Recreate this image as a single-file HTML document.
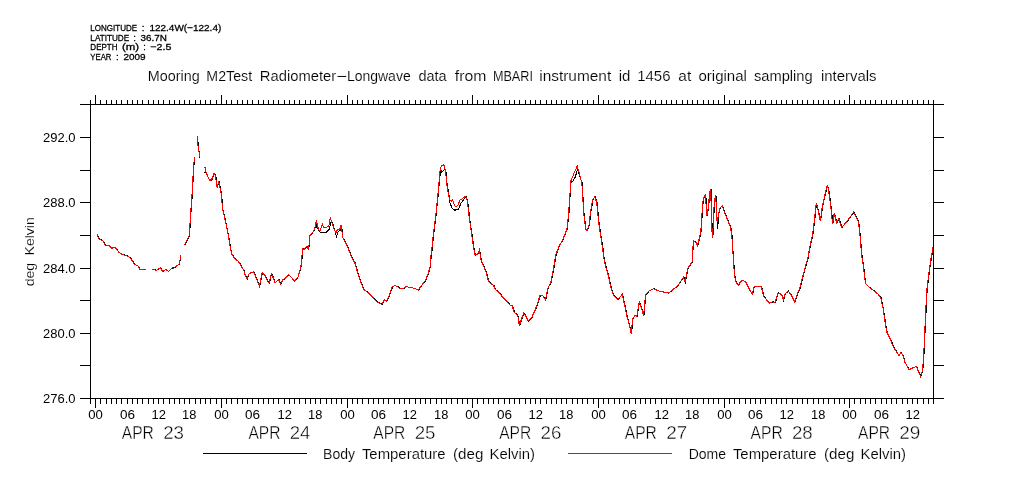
<!DOCTYPE html>
<html><head><meta charset="utf-8"><style>
html,body{margin:0;padding:0;background:#fff;}
body{width:1009px;height:504px;overflow:hidden;}
svg{display:block;}
text{font-family:"Liberation Sans",sans-serif;fill:#000;stroke:none;}
.h{stroke:#000;stroke-width:0.3px;}
.s{}
.d{stroke:#fff;stroke-width:0.4px;}
.k{stroke:#fff;stroke-width:0.15px;}
</style></head><body>
<svg width="1009" height="504" viewBox="0 0 1009 504">
<rect width="1009" height="504" fill="#fff"/>

<text x="90.36" y="31" font-size="9.71" textLength="46.69" lengthAdjust="spacingAndGlyphs" class="h">LONGITUDE</text>
<text x="141.74" y="31" font-size="9.71" textLength="2.70" lengthAdjust="spacingAndGlyphs" class="h">:</text>
<text x="149.40" y="31" font-size="9.71" textLength="71.89" lengthAdjust="spacingAndGlyphs" class="h">122.4W(−122.4)</text>
<text x="90.35" y="40.9" font-size="9.71" textLength="38.78" lengthAdjust="spacingAndGlyphs" class="h">LATITUDE</text>
<text x="133.34" y="40.9" font-size="9.71" textLength="2.70" lengthAdjust="spacingAndGlyphs" class="h">:</text>
<text x="140.60" y="40.9" font-size="9.71" textLength="26.37" lengthAdjust="spacingAndGlyphs" class="h">36.7N</text>
<text x="90.36" y="50.1" font-size="9.13" textLength="27.07" lengthAdjust="spacingAndGlyphs" class="h">DEPTH</text>
<text x="121.91" y="50.1" font-size="9.13" textLength="17.16" lengthAdjust="spacingAndGlyphs" class="h">(m)</text>
<text x="143.32" y="50.1" font-size="9.13" textLength="2.54" lengthAdjust="spacingAndGlyphs" class="h">:</text>
<text x="150.37" y="50.1" font-size="9.13" textLength="21.00" lengthAdjust="spacingAndGlyphs" class="h">−2.5</text>
<text x="90.37" y="60" font-size="9.86" textLength="21.04" lengthAdjust="spacingAndGlyphs" class="h">YEAR</text>
<text x="116.12" y="60" font-size="9.86" textLength="2.74" lengthAdjust="spacingAndGlyphs" class="h">:</text>
<text x="123.40" y="60" font-size="9.86" textLength="22.14" lengthAdjust="spacingAndGlyphs" class="h">2009</text>
<text x="147.85" y="81" font-size="14.35" textLength="51.85" lengthAdjust="spacingAndGlyphs" class="k">Mooring</text>
<text x="206.36" y="81" font-size="14.35" textLength="45.78" lengthAdjust="spacingAndGlyphs" class="k">M2Test</text>
<text x="259.82" y="81" font-size="14.35" textLength="76.36" lengthAdjust="spacingAndGlyphs" class="k">Radiometer</text>
<text x="336.19" y="81" font-size="14.35" textLength="10.61" lengthAdjust="spacingAndGlyphs" class="k">−</text>
<text x="346.88" y="81" font-size="14.35" textLength="63.81" lengthAdjust="spacingAndGlyphs" class="k">Longwave</text>
<text x="418.42" y="81" font-size="14.35" textLength="28.23" lengthAdjust="spacingAndGlyphs" class="k">data</text>
<text x="454.84" y="81" font-size="14.35" textLength="31.56" lengthAdjust="spacingAndGlyphs" class="k">from</text>
<text x="492.89" y="81" font-size="14.35" textLength="40.12" lengthAdjust="spacingAndGlyphs" class="k">MBARI</text>
<text x="539.22" y="81" font-size="14.35" textLength="72.01" lengthAdjust="spacingAndGlyphs" class="k">instrument</text>
<text x="618.65" y="81" font-size="14.35" textLength="11.68" lengthAdjust="spacingAndGlyphs" class="k">id</text>
<text x="637.20" y="81" font-size="14.35" textLength="33.37" lengthAdjust="spacingAndGlyphs" class="k">1456</text>
<text x="678.38" y="81" font-size="14.35" textLength="12.88" lengthAdjust="spacingAndGlyphs" class="k">at</text>
<text x="698.40" y="81" font-size="14.35" textLength="48.57" lengthAdjust="spacingAndGlyphs" class="k">original</text>
<text x="753.96" y="81" font-size="14.35" textLength="58.75" lengthAdjust="spacingAndGlyphs" class="k">sampling</text>
<text x="820.96" y="81" font-size="14.35" textLength="55.55" lengthAdjust="spacingAndGlyphs" class="k">intervals</text>
<text x="323.08" y="459" font-size="13.91" textLength="32.01" lengthAdjust="spacingAndGlyphs" class="k">Body</text>
<text x="361.90" y="459" font-size="13.91" textLength="83.75" lengthAdjust="spacingAndGlyphs" class="k">Temperature</text>
<text x="452.99" y="459" font-size="13.91" textLength="30.34" lengthAdjust="spacingAndGlyphs" class="k">(deg</text>
<text x="489.51" y="459" font-size="13.91" textLength="45.59" lengthAdjust="spacingAndGlyphs" class="k">Kelvin)</text>
<text x="688.68" y="459" font-size="13.91" textLength="37.39" lengthAdjust="spacingAndGlyphs" class="k">Dome</text>
<text x="732.90" y="459" font-size="13.91" textLength="83.75" lengthAdjust="spacingAndGlyphs" class="k">Temperature</text>
<text x="823.99" y="459" font-size="13.91" textLength="30.34" lengthAdjust="spacingAndGlyphs" class="k">(deg</text>
<text x="860.51" y="459" font-size="13.91" textLength="45.59" lengthAdjust="spacingAndGlyphs" class="k">Kelvin)</text>
<g stroke="#000" stroke-width="1" shape-rendering="crispEdges" fill="none">
<path d="M80,104.5H944M80,398.5H944M90.5,104V399M933.5,104V399"/>
<path d="M90.5,104V100M90.5,399V404M95.5,104V95M95.5,399V408M100.5,104V100M100.5,399V404M106.5,104V100M106.5,399V404M111.5,104V100M111.5,399V404M116.5,104V100M116.5,399V404M121.5,104V100M121.5,399V404M127.5,104V100M127.5,399V404M132.5,104V100M132.5,399V404M137.5,104V100M137.5,399V404M142.5,104V100M142.5,399V404M148.5,104V100M148.5,399V404M153.5,104V100M153.5,399V404M158.5,104V100M158.5,399V404M163.5,104V100M163.5,399V404M169.5,104V100M169.5,399V404M174.5,104V100M174.5,399V404M179.5,104V100M179.5,399V404M184.5,104V100M184.5,399V404M189.5,104V100M189.5,399V404M195.5,104V100M195.5,399V404M200.5,104V100M200.5,399V404M205.5,104V100M205.5,399V404M210.5,104V100M210.5,399V404M216.5,104V100M216.5,399V404M221.5,104V95M221.5,399V408M226.5,104V100M226.5,399V404M231.5,104V100M231.5,399V404M237.5,104V100M237.5,399V404M242.5,104V100M242.5,399V404M247.5,104V100M247.5,399V404M252.5,104V100M252.5,399V404M258.5,104V100M258.5,399V404M263.5,104V100M263.5,399V404M268.5,104V100M268.5,399V404M273.5,104V100M273.5,399V404M278.5,104V100M278.5,399V404M284.5,104V100M284.5,399V404M289.5,104V100M289.5,399V404M294.5,104V100M294.5,399V404M299.5,104V100M299.5,399V404M305.5,104V100M305.5,399V404M310.5,104V100M310.5,399V404M315.5,104V100M315.5,399V404M320.5,104V100M320.5,399V404M326.5,104V100M326.5,399V404M331.5,104V100M331.5,399V404M336.5,104V100M336.5,399V404M341.5,104V100M341.5,399V404M347.5,104V95M347.5,399V408M352.5,104V100M352.5,399V404M357.5,104V100M357.5,399V404M362.5,104V100M362.5,399V404M368.5,104V100M368.5,399V404M373.5,104V100M373.5,399V404M378.5,104V100M378.5,399V404M383.5,104V100M383.5,399V404M388.5,104V100M388.5,399V404M394.5,104V100M394.5,399V404M399.5,104V100M399.5,399V404M404.5,104V100M404.5,399V404M409.5,104V100M409.5,399V404M415.5,104V100M415.5,399V404M420.5,104V100M420.5,399V404M425.5,104V100M425.5,399V404M430.5,104V100M430.5,399V404M436.5,104V100M436.5,399V404M441.5,104V100M441.5,399V404M446.5,104V100M446.5,399V404M451.5,104V100M451.5,399V404M457.5,104V100M457.5,399V404M462.5,104V100M462.5,399V404M467.5,104V100M467.5,399V404M472.5,104V95M472.5,399V408M477.5,104V100M477.5,399V404M483.5,104V100M483.5,399V404M488.5,104V100M488.5,399V404M493.5,104V100M493.5,399V404M498.5,104V100M498.5,399V404M504.5,104V100M504.5,399V404M509.5,104V100M509.5,399V404M514.5,104V100M514.5,399V404M519.5,104V100M519.5,399V404M525.5,104V100M525.5,399V404M530.5,104V100M530.5,399V404M535.5,104V100M535.5,399V404M540.5,104V100M540.5,399V404M546.5,104V100M546.5,399V404M551.5,104V100M551.5,399V404M556.5,104V100M556.5,399V404M561.5,104V100M561.5,399V404M566.5,104V100M566.5,399V404M572.5,104V100M572.5,399V404M577.5,104V100M577.5,399V404M582.5,104V100M582.5,399V404M587.5,104V100M587.5,399V404M593.5,104V100M593.5,399V404M598.5,104V95M598.5,399V408M603.5,104V100M603.5,399V404M608.5,104V100M608.5,399V404M614.5,104V100M614.5,399V404M619.5,104V100M619.5,399V404M624.5,104V100M624.5,399V404M629.5,104V100M629.5,399V404M635.5,104V100M635.5,399V404M640.5,104V100M640.5,399V404M645.5,104V100M645.5,399V404M650.5,104V100M650.5,399V404M655.5,104V100M655.5,399V404M661.5,104V100M661.5,399V404M666.5,104V100M666.5,399V404M671.5,104V100M671.5,399V404M676.5,104V100M676.5,399V404M682.5,104V100M682.5,399V404M687.5,104V100M687.5,399V404M692.5,104V100M692.5,399V404M697.5,104V100M697.5,399V404M703.5,104V100M703.5,399V404M708.5,104V100M708.5,399V404M713.5,104V100M713.5,399V404M718.5,104V100M718.5,399V404M724.5,104V95M724.5,399V408M729.5,104V100M729.5,399V404M734.5,104V100M734.5,399V404M739.5,104V100M739.5,399V404M745.5,104V100M745.5,399V404M750.5,104V100M750.5,399V404M755.5,104V100M755.5,399V404M760.5,104V100M760.5,399V404M765.5,104V100M765.5,399V404M771.5,104V100M771.5,399V404M776.5,104V100M776.5,399V404M781.5,104V100M781.5,399V404M786.5,104V100M786.5,399V404M792.5,104V100M792.5,399V404M797.5,104V100M797.5,399V404M802.5,104V100M802.5,399V404M807.5,104V100M807.5,399V404M813.5,104V100M813.5,399V404M818.5,104V100M818.5,399V404M823.5,104V100M823.5,399V404M828.5,104V100M828.5,399V404M834.5,104V100M834.5,399V404M839.5,104V100M839.5,399V404M844.5,104V100M844.5,399V404M849.5,104V95M849.5,399V408M854.5,104V100M854.5,399V404M860.5,104V100M860.5,399V404M865.5,104V100M865.5,399V404M870.5,104V100M870.5,399V404M875.5,104V100M875.5,399V404M881.5,104V100M881.5,399V404M886.5,104V100M886.5,399V404M891.5,104V100M891.5,399V404M896.5,104V100M896.5,399V404M902.5,104V100M902.5,399V404M907.5,104V100M907.5,399V404M912.5,104V100M912.5,399V404M917.5,104V100M917.5,399V404M923.5,104V100M923.5,399V404M928.5,104V100M928.5,399V404M933.5,104V100M933.5,399V404"/>
<path d="M80,398.5H90M933,398.5H944M80,365.5H90M933,365.5H944M80,333.5H90M933,333.5H944M80,300.5H90M933,300.5H944M80,268.5H90M933,268.5H944M80,235.5H90M933,235.5H944M80,202.5H90M933,202.5H944M80,170.5H90M933,170.5H944M80,137.5H90M933,137.5H944"/>
</g>
<text x="43.05" y="402.6" font-size="12.29" textLength="32.50" lengthAdjust="spacingAndGlyphs" class="s">276.0</text>
<text x="43.05" y="337.6" font-size="12.29" textLength="32.50" lengthAdjust="spacingAndGlyphs" class="s">280.0</text>
<text x="43.05" y="272.6" font-size="12.29" textLength="32.50" lengthAdjust="spacingAndGlyphs" class="s">284.0</text>
<text x="43.05" y="206.6" font-size="12.29" textLength="32.50" lengthAdjust="spacingAndGlyphs" class="s">288.0</text>
<text x="43.05" y="141.6" font-size="12.29" textLength="32.50" lengthAdjust="spacingAndGlyphs" class="s">292.0</text>
<g transform="translate(33.7,285.7) rotate(-90)"><text x="-0.56" y="0" font-size="13.48" textLength="23.42" lengthAdjust="spacingAndGlyphs" class="k">deg</text><text x="30.28" y="0" font-size="13.48" textLength="38.22" lengthAdjust="spacingAndGlyphs" class="k">Kelvin</text></g>
<text x="88.23" y="419" font-size="12.86" textLength="14.58" lengthAdjust="spacingAndGlyphs" class="s">00</text>
<text x="120.01" y="419" font-size="12.86" textLength="15.01" lengthAdjust="spacingAndGlyphs" class="s">06</text>
<text x="151.61" y="419" font-size="12.86" textLength="14.42" lengthAdjust="spacingAndGlyphs" class="s">12</text>
<text x="182.12" y="419" font-size="12.86" textLength="14.27" lengthAdjust="spacingAndGlyphs" class="s">18</text>
<text x="214.23" y="419" font-size="12.86" textLength="14.58" lengthAdjust="spacingAndGlyphs" class="s">00</text>
<text x="245.01" y="419" font-size="12.86" textLength="15.01" lengthAdjust="spacingAndGlyphs" class="s">06</text>
<text x="277.61" y="419" font-size="12.86" textLength="14.42" lengthAdjust="spacingAndGlyphs" class="s">12</text>
<text x="308.12" y="419" font-size="12.86" textLength="14.27" lengthAdjust="spacingAndGlyphs" class="s">18</text>
<text x="340.23" y="419" font-size="12.86" textLength="14.58" lengthAdjust="spacingAndGlyphs" class="s">00</text>
<text x="371.01" y="419" font-size="12.86" textLength="15.01" lengthAdjust="spacingAndGlyphs" class="s">06</text>
<text x="402.61" y="419" font-size="12.86" textLength="14.42" lengthAdjust="spacingAndGlyphs" class="s">12</text>
<text x="434.12" y="419" font-size="12.86" textLength="14.27" lengthAdjust="spacingAndGlyphs" class="s">18</text>
<text x="465.23" y="419" font-size="12.86" textLength="14.58" lengthAdjust="spacingAndGlyphs" class="s">00</text>
<text x="497.01" y="419" font-size="12.86" textLength="15.01" lengthAdjust="spacingAndGlyphs" class="s">06</text>
<text x="528.61" y="419" font-size="12.86" textLength="14.42" lengthAdjust="spacingAndGlyphs" class="s">12</text>
<text x="559.12" y="419" font-size="12.86" textLength="14.27" lengthAdjust="spacingAndGlyphs" class="s">18</text>
<text x="591.23" y="419" font-size="12.86" textLength="14.58" lengthAdjust="spacingAndGlyphs" class="s">00</text>
<text x="622.01" y="419" font-size="12.86" textLength="15.01" lengthAdjust="spacingAndGlyphs" class="s">06</text>
<text x="654.61" y="419" font-size="12.86" textLength="14.42" lengthAdjust="spacingAndGlyphs" class="s">12</text>
<text x="685.12" y="419" font-size="12.86" textLength="14.27" lengthAdjust="spacingAndGlyphs" class="s">18</text>
<text x="717.23" y="419" font-size="12.86" textLength="14.58" lengthAdjust="spacingAndGlyphs" class="s">00</text>
<text x="748.01" y="419" font-size="12.86" textLength="15.01" lengthAdjust="spacingAndGlyphs" class="s">06</text>
<text x="779.61" y="419" font-size="12.86" textLength="14.42" lengthAdjust="spacingAndGlyphs" class="s">12</text>
<text x="811.12" y="419" font-size="12.86" textLength="14.27" lengthAdjust="spacingAndGlyphs" class="s">18</text>
<text x="842.23" y="419" font-size="12.86" textLength="14.58" lengthAdjust="spacingAndGlyphs" class="s">00</text>
<text x="874.01" y="419" font-size="12.86" textLength="15.01" lengthAdjust="spacingAndGlyphs" class="s">06</text>
<text x="905.61" y="419" font-size="12.86" textLength="14.42" lengthAdjust="spacingAndGlyphs" class="s">12</text>
<text x="121.80" y="439" font-size="18.84" textLength="32.08" lengthAdjust="spacingAndGlyphs" class="d">APR</text>
<text x="163.16" y="439" font-size="18.57" textLength="20.83" lengthAdjust="spacingAndGlyphs" class="d">23</text>
<text x="248.40" y="439" font-size="18.84" textLength="32.08" lengthAdjust="spacingAndGlyphs" class="d">APR</text>
<text x="289.77" y="439" font-size="18.57" textLength="20.63" lengthAdjust="spacingAndGlyphs" class="d">24</text>
<text x="373.30" y="439" font-size="18.84" textLength="32.08" lengthAdjust="spacingAndGlyphs" class="d">APR</text>
<text x="414.66" y="439" font-size="18.57" textLength="20.83" lengthAdjust="spacingAndGlyphs" class="d">25</text>
<text x="499.20" y="439" font-size="18.84" textLength="32.08" lengthAdjust="spacingAndGlyphs" class="d">APR</text>
<text x="540.56" y="439" font-size="18.57" textLength="20.83" lengthAdjust="spacingAndGlyphs" class="d">26</text>
<text x="624.80" y="439" font-size="18.84" textLength="32.08" lengthAdjust="spacingAndGlyphs" class="d">APR</text>
<text x="666.15" y="439" font-size="18.57" textLength="21.04" lengthAdjust="spacingAndGlyphs" class="d">27</text>
<text x="750.60" y="439" font-size="18.84" textLength="32.08" lengthAdjust="spacingAndGlyphs" class="d">APR</text>
<text x="791.96" y="439" font-size="18.57" textLength="20.83" lengthAdjust="spacingAndGlyphs" class="d">28</text>
<text x="858.00" y="439" font-size="18.84" textLength="32.08" lengthAdjust="spacingAndGlyphs" class="d">APR</text>
<text x="899.35" y="439" font-size="18.57" textLength="21.04" lengthAdjust="spacingAndGlyphs" class="d">29</text>
<path d="M203,453.5H307" stroke="#000" stroke-width="1" shape-rendering="crispEdges"/>
<path d="M568,453.5H672" stroke="#f00" stroke-width="1" shape-rendering="crispEdges"/>
<path d="M97.4,234.0L98.6,238.5L100.4,239.6L102.8,240.5L105.8,245.6L109.3,245.6L112.3,248.3L114.1,247.1L115.9,248.0L119.5,252.7L121.8,254.0L124.8,255.1L128.4,256.3L131.3,258.7L133.8,262.9L134.9,264.6L137.4,265.5L138.9,266.7L139.8,269.3L146.2,269.3M152.7,270.0L154.2,269.3L156.4,270.5L158.2,269.3L160.7,267.6L161.5,269.3L163.0,271.4L166.0,269.3L168.7,271.4L172.8,267.6L174.0,268.2L177.0,265.8L179.3,264.3L179.9,260.7L180.8,258.9L180.8,255.0M184.8,245.2L189.4,236.2L190.2,225.4L191.2,209.5L191.7,204.4L192.4,193.3L193.2,179.0L194.0,164.7L195.0,157.5M197.5,136.1L198.8,151.2L199.7,152.8L199.9,157.5M203.9,172.3L206.3,172.6L208.7,179.0L211.0,181.3L212.7,178.2L214.2,173.4L215.8,175.8L217.4,187.7L219.0,181.3L220.5,188.5L221.7,194.8L222.4,204.4L222.8,209.5L224.3,215.0L227.2,228.6L228.8,236.5L230.4,246.8L232.0,254.0L235.2,258.7L238.3,261.1L240.8,264.7L243.9,270.2L245.9,276.2L247.4,279.0L249.0,274.2L251.4,272.6L253.8,271.8L255.8,276.2L257.5,280.6L259.8,286.1L260.9,280.6L262.6,272.6L265.4,275.4L267.8,281.3L269.4,283.3L271.0,276.2L272.0,273.8L273.7,278.2L275.2,282.9L276.9,281.3L279.1,279.8L280.9,284.1L283.2,279.8L286.0,278.2L288.8,274.6L292.0,277.8L294.8,281.3L298.2,277.0L300.2,270.6L301.7,264.3L302.2,255.6L302.5,254.6L303.0,248.6L304.2,249.5L306.9,246.5L308.7,249.1L309.6,243.4L310.0,236.4L310.9,234.7L313.9,231.2L315.2,227.7L316.1,223.8L317.0,227.7L319.2,231.0L320.9,232.9L323.5,232.1L326.6,232.1L329.2,229.5L330.5,223.3L331.8,221.2L332.7,223.3L334.4,229.0L336.6,236.9L337.9,232.1L340.5,229.9L341.4,225.5L342.2,230.3L342.7,237.3L344.0,239.0L346.6,243.9L349.7,251.3L352.5,258.5L355.1,262.4L357.7,272.1L360.2,279.8L364.1,289.5L369.2,293.4L373.1,297.3L377.0,301.8L382.2,304.4L384.8,299.8L386.7,301.1L389.9,294.7L392.5,287.0L395.1,285.6L397.7,286.5L400.9,288.9L404.1,288.2L406.7,286.5L409.9,287.6L413.1,288.0L415.7,288.9L418.7,290.0L422.2,285.0L425.4,281.1L428.6,273.4L430.6,266.3L431.2,255.3L431.7,254.2L433.7,234.4L436.2,214.5L438.2,194.7L440.6,169.3L441.7,172.0L444.6,169.3L445.5,170.9L446.0,172.0L447.2,184.8L449.0,195.0L449.8,202.5L452.0,208.0L454.8,210.2L458.6,209.1L460.8,203.6L464.0,199.3L466.2,196.5L467.2,199.3L468.1,204.6L470.0,220.5L472.0,234.4L473.8,246.7L475.5,255.1L478.0,254.3L479.7,250.1L481.4,260.2L483.9,266.1L486.4,272.0L488.9,281.3L491.5,283.8L494.0,285.5L495.7,289.7L499.1,292.2L502.4,296.4L506.7,300.6L510.0,304.9L512.6,305.7L514.6,312.5L516.8,314.1L518.5,317.5L519.8,326.0L521.8,319.2L524.0,313.3L526.0,315.8L528.6,320.9L532.0,317.5L535.2,310.8L537.9,303.2L540.4,295.6L542.9,295.6L545.9,299.8L548.2,288.0L551.2,282.1L553.9,268.6L556.1,255.1L559.4,246.3L563.2,239.3L567.2,229.4L568.9,214.5L570.2,194.7L571.2,180.8L572.1,182.2L575.1,177.5L577.6,169.5L579.1,174.3L582.1,182.8L583.1,198.7L584.1,214.5L586.1,229.4L587.5,230.4L589.5,224.4L591.1,210.6L593.1,199.6L595.1,196.7L597.1,202.6L599.1,222.5L601.4,238.3L603.0,248.3L603.9,256.3L605.8,265.7L608.6,275.1L611.4,288.3L614.1,295.8L618.0,299.6L622.6,294.3L624.6,303.4L627.4,316.6L629.6,325.0L631.6,333.5L633.1,318.4L635.2,315.6L637.1,316.6L639.6,301.5L642.1,309.0L644.0,315.6L645.9,294.9L649.1,291.1L653.8,288.7L659.4,291.1L668.8,293.0L672.6,290.2L678.2,285.5L683.9,277.0L685.4,281.7L688.1,268.5L692.4,262.0L693.0,249.8L694.1,241.1L696.5,242.7L697.8,245.9L699.4,239.5L701.0,232.4L701.6,225.8L702.2,214.7L703.0,204.3L703.6,198.1L705.1,196.0L705.8,195.3L706.5,205.0L707.1,216.1L708.6,207.8L709.2,200.8L710.0,193.2L711.0,189.0L711.4,200.8L712.1,225.8L712.8,238.3L713.5,227.2L714.1,210.6L714.8,200.8L716.0,195.3L716.5,203.6L716.9,219.0L717.6,228.6L719.0,213.3L720.4,207.8L722.5,205.7L723.1,207.1L724.6,211.9L726.6,216.8L728.6,221.7L730.8,227.2L731.8,232.8L732.6,241.1L732.9,249.4L733.6,257.1L734.2,267.9L735.1,277.4L736.6,282.7L738.6,285.7L740.9,281.5L743.2,280.4L746.1,282.1L748.6,286.9L751.0,291.7L752.8,294.0L754.0,287.5L755.8,286.3L761.6,286.3L762.9,291.7L764.1,296.4L766.5,299.4L770.0,303.0L773.0,301.8L775.4,302.4L778.4,292.9L780.8,294.0L782.5,295.8L783.6,300.0L785.5,293.5L788.5,291.1L792.1,295.8L795.0,301.8L797.4,294.6L799.8,289.3L801.6,282.7L804.0,273.2L806.4,264.3L808.1,258.3L810.6,244.8L813.1,233.7L815.0,217.9L816.6,202.8L818.6,211.5L820.6,221.0L822.2,209.1L824.1,199.6L825.8,192.5L827.6,185.3L829.0,190.9L830.6,202.8L831.6,211.5L832.9,224.2L834.5,213.1L835.6,217.1L836.9,222.6L839.2,218.7L840.4,222.6L842.0,227.4L846.4,222.6L850.4,217.1L853.9,212.3L856.0,216.0L858.8,221.8L859.6,229.0L860.6,238.5L861.9,254.5L863.5,264.6L864.6,274.8L865.9,283.7L869.6,287.3L874.4,290.8L878.0,293.8L881.0,297.4L883.2,307.5L884.6,316.4L886.1,327.1L887.4,332.5L890.9,339.6L893.6,346.8L897.1,352.1L899.2,355.7L901.1,352.5L903.4,355.7L905.1,362.0L907.9,367.3L909.2,370.0L912.4,368.2L916.5,366.4L918.6,370.9L920.9,376.3L922.5,371.8L923.6,362.9L924.2,350.4L925.1,330.7L926.1,311.1L927.1,291.4L928.2,280.7L929.8,268.8L931.6,256.9L933.4,247.4" fill="none" stroke="#000" stroke-width="1" shape-rendering="crispEdges"/>
<path d="M97.1,234.0L98.3,238.5L100.1,239.6L102.5,240.5L105.5,245.6L109.0,245.6L112.0,248.3L113.8,247.1L115.6,248.0L119.2,252.7L121.5,254.0L124.5,255.1L128.1,256.3L131.0,258.7L133.5,262.9L134.6,264.6L137.1,265.5L138.6,266.7L139.5,269.3L145.8,269.3M152.3,270.0L153.8,269.3L156.1,270.5L157.9,269.3L160.3,267.6L161.2,269.3L162.7,271.4L165.7,269.3L168.3,271.4L172.5,267.6L173.7,268.2L176.7,265.8L179.0,264.3L179.6,260.7L180.5,258.9L180.5,255.0M184.4,245.2L189.1,236.2L189.9,225.4L190.9,209.5L191.3,204.4L192.1,193.3L192.8,179.0L193.7,164.7L194.7,157.5M197.2,136.1L198.5,151.2L199.3,152.8L199.6,157.5M203.6,167.9L205.2,167.9L206.0,171.8L207.5,175.8L209.9,180.6L212.3,178.2L213.9,173.4L215.5,175.8L217.1,187.7L218.7,181.3L220.2,188.5L221.3,194.8L222.1,204.4L222.5,209.5L224.0,215.0L226.9,228.6L228.5,236.5L230.1,246.8L231.7,254.0L234.8,258.7L238.0,261.1L240.4,264.7L243.6,270.2L245.6,276.2L247.1,279.0L248.7,274.2L251.1,272.6L253.5,271.8L255.5,276.2L257.1,280.6L259.4,286.1L260.5,280.6L262.2,272.6L265.0,275.4L267.4,281.3L269.0,283.3L270.6,276.2L271.6,273.8L273.3,278.2L274.9,282.9L276.5,281.3L278.7,279.8L280.5,284.1L282.9,279.8L285.6,278.2L288.4,274.6L291.6,277.8L294.4,281.3L297.9,277.0L299.9,270.6L301.3,264.3L301.9,255.6L302.1,254.6L302.6,248.6L303.9,249.5L306.5,246.5L308.3,249.1L309.2,243.4L309.6,236.4L310.5,234.7L313.5,231.2L314.8,227.7L316.4,220.3L317.5,226.0L318.8,229.9L320.5,230.8L321.4,226.4L322.5,224.2L323.6,227.3L325.7,227.7L328.8,226.0L329.7,220.7L330.4,218.1L331.4,221.2L332.3,223.3L334.0,229.0L335.8,232.9L337.5,229.5L339.7,229.5L341.0,225.5L341.9,230.3L342.3,237.3L343.6,239.0L346.2,243.9L349.3,251.3L352.1,258.5L354.7,262.4L357.3,272.1L359.8,279.8L363.7,289.5L368.9,293.4L372.7,297.3L376.6,301.8L381.8,304.4L384.4,299.8L386.3,301.1L389.5,294.7L392.1,287.0L394.7,285.6L397.3,286.5L400.5,288.9L403.7,288.2L406.3,286.5L409.5,287.6L412.7,288.0L415.3,288.9L418.3,290.0L421.8,285.0L425.0,281.1L428.2,273.4L430.2,266.3L430.8,255.3L431.3,254.2L433.3,234.4L435.9,214.5L437.9,194.7L440.2,169.3L441.3,166.0L443.5,164.9L444.5,166.0L445.6,172.0L446.8,184.8L448.6,195.0L449.4,198.7L451.1,201.4L452.7,199.8L454.4,205.8L456.5,206.9L458.2,204.7L459.8,200.3L461.4,199.3L463.6,197.6L465.8,196.0L466.9,199.3L467.7,204.6L469.6,220.5L471.6,234.4L473.4,246.7L475.1,255.1L477.6,254.3L479.3,250.1L481.0,260.2L483.5,266.1L486.0,272.0L488.5,281.3L491.1,283.8L493.6,285.5L495.3,289.7L498.7,292.2L502.0,296.4L506.3,300.6L509.6,304.9L512.2,305.7L514.2,312.5L516.4,314.1L518.1,317.5L519.4,326.0L521.4,319.2L523.6,313.3L525.6,315.8L528.2,320.9L531.6,317.5L534.9,310.8L537.5,303.2L540.0,295.6L542.5,295.6L545.5,299.8L547.9,288.0L550.9,282.1L553.5,268.6L555.7,255.1L559.0,246.3L562.9,239.3L566.9,229.4L568.5,214.5L569.9,194.7L570.9,180.8L573.8,173.8L577.2,165.9L579.8,174.8L581.8,182.8L582.8,198.7L583.8,214.5L585.8,229.4L587.1,230.4L589.1,224.4L590.7,210.6L592.7,199.6L594.7,196.7L596.7,202.6L598.7,222.5L601.0,238.3L602.6,248.3L603.5,256.3L605.4,265.7L608.2,275.1L611.0,288.3L613.8,295.8L617.6,299.6L622.3,294.3L624.2,303.4L627.0,316.6L629.3,325.0L631.2,333.5L632.7,318.4L634.9,315.6L636.8,316.6L639.3,301.5L641.7,309.0L643.6,315.6L645.5,294.9L648.7,291.1L653.4,288.7L659.0,291.1L668.4,293.0L672.2,290.2L677.9,285.5L683.5,277.0L685.0,281.7L687.7,268.5L692.0,262.0L692.6,249.8L693.7,241.1L696.1,242.7L697.4,245.9L699.0,239.5L700.6,232.4L701.3,225.8L701.9,214.7L702.6,204.3L703.3,198.1L704.7,196.0L705.4,195.3L706.1,205.0L706.8,216.1L708.2,207.8L708.9,200.8L709.6,193.2L710.6,189.0L711.0,200.8L711.7,225.8L712.4,238.3L713.1,227.2L713.8,210.6L714.4,200.8L715.6,195.3L716.1,203.6L716.5,217.5L717.2,221.7L718.6,213.3L720.0,207.8L722.1,205.7L722.8,207.1L724.2,211.9L726.3,216.8L728.3,221.7L730.4,227.2L731.4,232.8L732.2,241.1L732.5,249.4L733.3,257.1L733.9,267.9L734.8,277.4L736.3,282.7L738.3,285.7L740.5,281.5L742.9,280.4L745.8,282.1L748.2,286.9L750.6,291.7L752.4,294.0L753.6,287.5L755.4,286.3L761.3,286.3L762.5,291.7L763.7,296.4L766.1,299.4L769.6,303.0L772.6,301.8L775.0,302.4L778.0,292.9L780.4,294.0L782.1,295.8L783.3,300.0L785.1,293.5L788.1,291.1L791.7,295.8L794.6,301.8L797.0,294.6L799.4,289.3L801.2,282.7L803.6,273.2L806.0,264.3L807.7,258.3L810.3,244.8L812.7,233.7L814.6,217.9L816.3,202.8L818.3,211.5L820.3,221.0L821.9,209.1L823.8,199.6L825.4,192.5L827.3,185.3L828.6,190.9L830.2,202.8L831.3,211.5L832.5,224.2L834.1,213.1L835.2,217.1L836.5,222.6L838.9,218.7L840.0,222.6L841.6,227.4L846.0,222.6L850.0,217.1L853.5,212.3L855.6,216.0L858.4,221.8L859.2,229.0L860.3,238.5L861.5,254.5L863.1,264.6L864.3,274.8L865.5,283.7L869.3,287.3L874.0,290.8L877.6,293.8L880.6,297.4L882.9,307.5L884.3,316.4L885.7,327.1L887.0,332.5L890.5,339.6L893.2,346.8L896.8,352.1L898.9,355.7L900.7,352.5L903.0,355.7L904.8,362.0L907.5,367.3L908.9,370.0L912.0,368.2L916.1,366.4L918.2,370.9L920.5,376.3L922.1,371.8L923.2,362.9L923.9,350.4L924.8,330.7L925.7,311.1L926.7,291.4L927.9,280.7L929.4,268.8L931.2,256.9L933.0,247.4" fill="none" stroke="#f00" stroke-width="1" shape-rendering="crispEdges"/>
</svg></body></html>
